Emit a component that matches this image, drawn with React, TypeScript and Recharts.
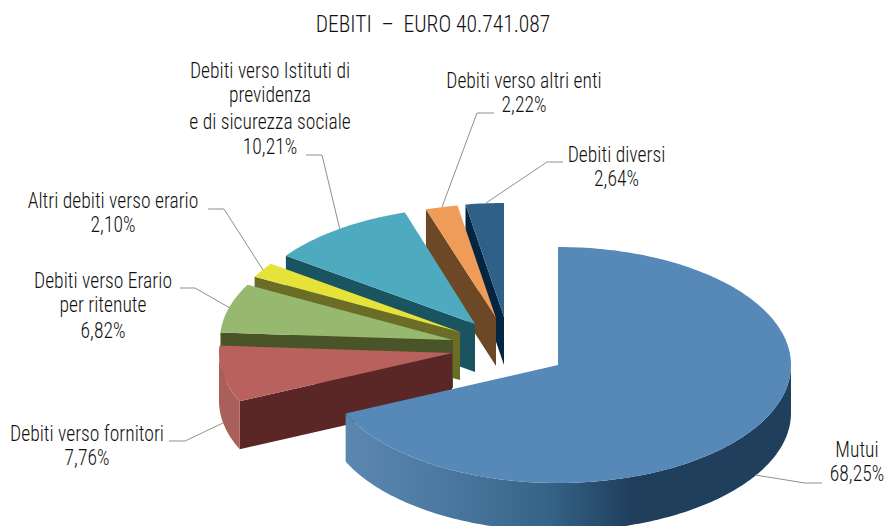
import { PieChart, Pie } from "recharts";

// listed counter-clockwise from 12 o'clock so the front slices paint last
const categories = [
  "Debiti diversi",
  "Debiti verso altri enti",
  "Debiti verso Istituti di\nprevidenza\ne di sicurezza sociale",
  "Altri debiti verso erario",
  "Debiti verso Erario\nper ritenute",
  "Debiti verso fornitori",
  "Mutui",
];
const shares = [2.64, 2.22, 10.21, 2.1, 6.82, 7.76, 68.25];

const chartData = categories.map((name, i) => ({ name, value: shares[i] }));

const FONT = "'Liberation Sans Narrow', 'Roboto Condensed', 'Liberation Sans', sans-serif";
const TEXT_COLOR = "#111";
const LINE_COLOR = "#8f8f8f";
const DEPTH = 48;
const TEXT_SQUEEZE = 0.89;

const topColors = ["#2e6088", "#ee9c58", "#4eabbf", "#e6e23a", "#97b86f", "#b9625d", "#5688b8"];
const wallColors = ["#04253f", "#6c4826", "#1a5461", "#6b6c26", "#4a5429", "#5a2726", "#1f3f5d"];

// 3d explosion: how far each slice sits from the pie centre, and its vertical radius
const slicePlacement = [
  { dx: -54, dy: -48, ry: 114 },
  { dx: -62, dy: -47, ry: 114 },
  { dx: -83, dy: -41, ry: 117 },
  { dx: -98, dy: -33, ry: 117 },
  { dx: -105, dy: -25, ry: 117 },
  { dx: -106, dy: -12, ry: 117 },
  { dx: 0, dy: 0, ry: 118 },
];

const labelPlacement = [
  { x: 616.5, y: 162, gaps: [24], leader: "486,203 547,162 563,162" },
  { x: 524, y: 88, gaps: [24], leader: "442,207 477,113 494,113" },
  { x: 270, y: 78, gaps: [24, 27, 25], leader: "340,230 322,155 306,155" },
  { x: 113, y: 208, gaps: [24], leader: "263,270 224,209 208,209" },
  { x: 103, y: 288, gaps: [24, 26], leader: "230,308 195,288 180,288" },
  { x: 87, y: 441, gaps: [24], leader: "223,423 185,441 169,441" },
  { x: 857, y: 457, gaps: [24], leader: "755,475 805,483 822,483" },
];

const RAD = Math.PI / 180;

function SliceShape(props: any) {
  const { cx, cy, outerRadius, startAngle, endAngle, index } = props;
  const place = slicePlacement[index];
  const ax = cx + place.dx;
  const ay = cy + place.dy;
  const at = (deg: number, drop = 0) => [
    ax + outerRadius * Math.cos(deg * RAD),
    ay - place.ry * Math.sin(deg * RAD) + drop,
  ];
  const arc = (from: number, to: number, drop = 0) => {
    const pts = [];
    for (let d = from; d < to; d += 1) pts.push(at(d, drop));
    pts.push(at(to, drop));
    return pts;
  };
  const toPath = (pts: number[][]) =>
    "M" + pts.map((p) => p[0].toFixed(2) + "," + p[1].toFixed(2)).join("L") + "Z";

  const frontFrom = Math.max(startAngle, 180);
  const frontTo = Math.min(endAngle, 360);
  const hasFront = frontTo > frontFrom;
  const isMain = index === categories.length - 1;
  const gradId = "wall-" + index;

  return (
    <g>
      {hasFront && (
        <defs>
          {isMain ? (
            <linearGradient id={gradId} gradientUnits="userSpaceOnUse" x1={ax - 212} x2={ax + 233} y1={0} y2={0}>
              <stop offset="0%" stopColor="#5b87b1" />
              <stop offset="20%" stopColor="#4d7aa3" />
              <stop offset="45%" stopColor="#366488" />
              <stop offset="64%" stopColor="#1f3f5d" />
              <stop offset="100%" stopColor="#1f3f5d" />
            </linearGradient>
          ) : (
            <linearGradient id={gradId} x1="0" x2="1" y1="0" y2="0">
              <stop offset="0%" stopColor="#a9605b" />
              <stop offset="100%" stopColor="#a9605b" />
            </linearGradient>
          )}
        </defs>
      )}
      <path
        d={toPath([[ax, ay], at(endAngle), at(endAngle, DEPTH), [ax, ay + DEPTH]])}
        fill={wallColors[index]}
      />
      {hasFront && (
        <path
          d={toPath([...arc(frontFrom, frontTo), ...arc(frontFrom, frontTo, DEPTH).reverse()])}
          fill={"url(#" + gradId + ")"}
        />
      )}
      <path d={toPath([[ax, ay], ...arc(startAngle, endAngle)])} fill={topColors[index]} />
    </g>
  );
}

function SliceLabel(props: any) {
  const { index, payload } = props;
  const place = labelPlacement[index];
  const lines = String(payload.name).split("\n");
  const percent = payload.value.toFixed(2).replace(".", ",") + "%";
  return (
    <g>
      <polyline points={place.leader} fill="none" stroke={LINE_COLOR} strokeWidth={1} />
      <text
        transform={`translate(${place.x} ${place.y}) scale(${TEXT_SQUEEZE} 1)`}
        textAnchor="middle"
        fontFamily={FONT}
        fontSize={22}
        fontWeight={300}
        fill={TEXT_COLOR}
      >
        {[...lines, percent].map((line, i) => (
          <tspan key={i} x={0} dy={i === 0 ? 0 : place.gaps[i - 1]}>
            {line}
          </tspan>
        ))}
      </text>
    </g>
  );
}

export default function App() {
  return (
    <div style={{ position: "absolute", left: 0, top: 0, width: 888, height: 526, overflow: "hidden", background: "#fff" }}>
      <PieChart width={888} height={526} margin={{ top: 0, right: 0, bottom: 0, left: 0 }}>
        <text
          transform={`translate(433 32) scale(0.9 1)`}
          textAnchor="middle"
          fontFamily={FONT}
          fontSize={24}
          fontWeight={300}
          fill={TEXT_COLOR}
        >
          DEBITI{"\u00a0\u00a0"}–{"\u00a0\u00a0"}EURO 40.741.087
        </text>
        <Pie
          data={chartData}
          dataKey="value"
          nameKey="name"
          cx={558}
          cy={365}
          innerRadius={0}
          outerRadius={233}
          startAngle={90}
          endAngle={450}
          stroke="none"
          shape={SliceShape}
          label={SliceLabel}
          labelLine={false}
          isAnimationActive={false}
        />
      </PieChart>
    </div>
  );
}
